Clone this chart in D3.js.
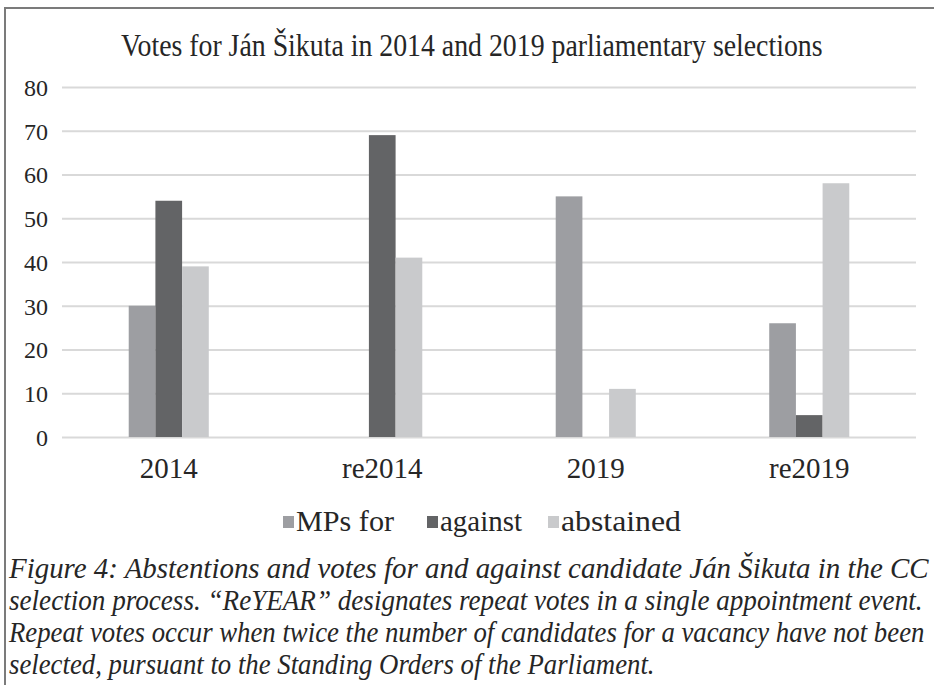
<!DOCTYPE html>
<html>
<head>
<meta charset="utf-8">
<script src="https://cdn.jsdelivr.net/npm/d3@7"></script>
<style>
  html, body { margin: 0; padding: 0; background: #fff; }
  svg { display: block; }
  svg text { font-family: "Liberation Serif", "Times New Roman", Times, serif; fill: #262626; }
</style>
</head>
<body>
<svg id="chart" width="934" height="685"></svg>
<script>
const categories = ["2014", "re2014", "2019", "re2019"];
const seriesNames = ["MPs for", "against", "abstained"];
const mpsFor    = [30, 0, 55, 26];
const against   = [54, 69, 0, 5];
const abstained = [39, 41, 11, 58];
const yTicks = [0, 10, 20, 30, 40, 50, 60, 70, 80];
const titleText = "Votes for Ján Šikuta in 2014 and 2019 parliamentary selections";
const captionLines = [
  "Figure 4: Abstentions and votes for and against candidate Ján Šikuta in the CC",
  "selection process. “ReYEAR” designates repeat votes in a single appointment event.",
  "Repeat votes occur when twice the number of candidates for a vacancy have not been",
  "selected, pursuant to the Standing Orders of the Parliament."
];

const seriesValues = [mpsFor, against, abstained];
const colors = ["#9d9ea2", "#636466", "#c9cacc"];

const svg = d3.select("#chart");
const W = 934, H = 685;

// place a text at (x, y) and squeeze it horizontally to a target width
function fitText(sel, x, yb, target) {
  const n = sel.node().getComputedTextLength();
  const k = n > 0 ? target / n : 1;
  sel.attr("x", 0).attr("y", 0).attr("transform", `translate(${x},${yb}) scale(${k},1)`);
  return sel;
}

// frame (top and left border)
svg.append("line").attr("x1", 4).attr("x2", W).attr("y1", 8).attr("y2", 8)
  .attr("stroke", "#7b7b7b").attr("stroke-width", 2);
svg.append("line").attr("x1", 5).attr("x2", 5).attr("y1", 7).attr("y2", H)
  .attr("stroke", "#7b7b7b").attr("stroke-width", 2);

// title
fitText(svg.append("text").attr("font-size", 31).text(titleText), 121, 56, 702);

const plot = { left: 62, right: 916, top: 87, bottom: 437 };

const y = d3.scaleLinear().domain([0, 80]).range([plot.bottom, plot.top]);
const x0 = d3.scaleBand().domain(categories).range([plot.left, plot.right]).padding(0);
const groupW = x0.bandwidth() * 0.375;
const x1 = d3.scaleBand().domain(seriesNames).range([0, groupW]).padding(0);

// gridlines + y labels
const yAxis = d3.axisLeft(y).tickValues(yTicks).tickSize(-(plot.right - plot.left)).tickPadding(14);
const gy = svg.append("g").attr("transform", `translate(${plot.left},0)`).call(yAxis);
gy.select(".domain").remove();
gy.selectAll(".tick line").attr("stroke", "#d9d9d9").attr("stroke-width", 2);
gy.selectAll(".tick text").attr("font-size", 24).attr("font-family", null).attr("fill", null)
  .attr("dy", "0.35em");

// bars
const rows = categories.map((c, i) => ({ cat: c, vals: seriesNames.map((s, j) => ({ s, v: seriesValues[j][i], j })) }));
const groups = svg.append("g").selectAll("g").data(rows).join("g")
  .attr("transform", d => `translate(${x0(d.cat) + (x0.bandwidth() - groupW) / 2},0)`);
groups.selectAll("rect").data(d => d.vals.filter(e => e.v > 0)).join("rect")
  .attr("x", d => x1(d.s))
  .attr("y", d => y(d.v))
  .attr("width", x1.bandwidth())
  .attr("height", d => y(0) - y(d.v))
  .attr("fill", d => colors[d.j]);

// x labels
const xAxis = d3.axisBottom(x0).tickSize(0).tickPadding(20);
const gx = svg.append("g").attr("transform", `translate(0,${plot.bottom})`).call(xAxis);
gx.select(".domain").remove();
gx.selectAll(".tick text").attr("font-size", 29).attr("font-family", null).attr("fill", null);

// legend
const legendItems = [
  { name: seriesNames[0], x: 283, w: 98 },
  { name: seriesNames[1], x: 427, w: 82 },
  { name: seriesNames[2], x: 548, w: 120 }
];
const lg = svg.append("g");
legendItems.forEach((it, i) => {
  lg.append("rect").attr("x", it.x).attr("y", 516).attr("width", 11).attr("height", 12).attr("fill", colors[i]);
  fitText(lg.append("text").attr("font-size", 29).text(it.name), it.x + 13, 531, it.w);
});

// caption
const capW = [920, 914, 916, 646];
const capY = [578, 610, 642, 674];
captionLines.forEach((t, i) => {
  fitText(svg.append("text").attr("font-style", "italic").attr("font-size", 29).text(t), 9, capY[i], capW[i]);
});
</script>
</body>
</html>
